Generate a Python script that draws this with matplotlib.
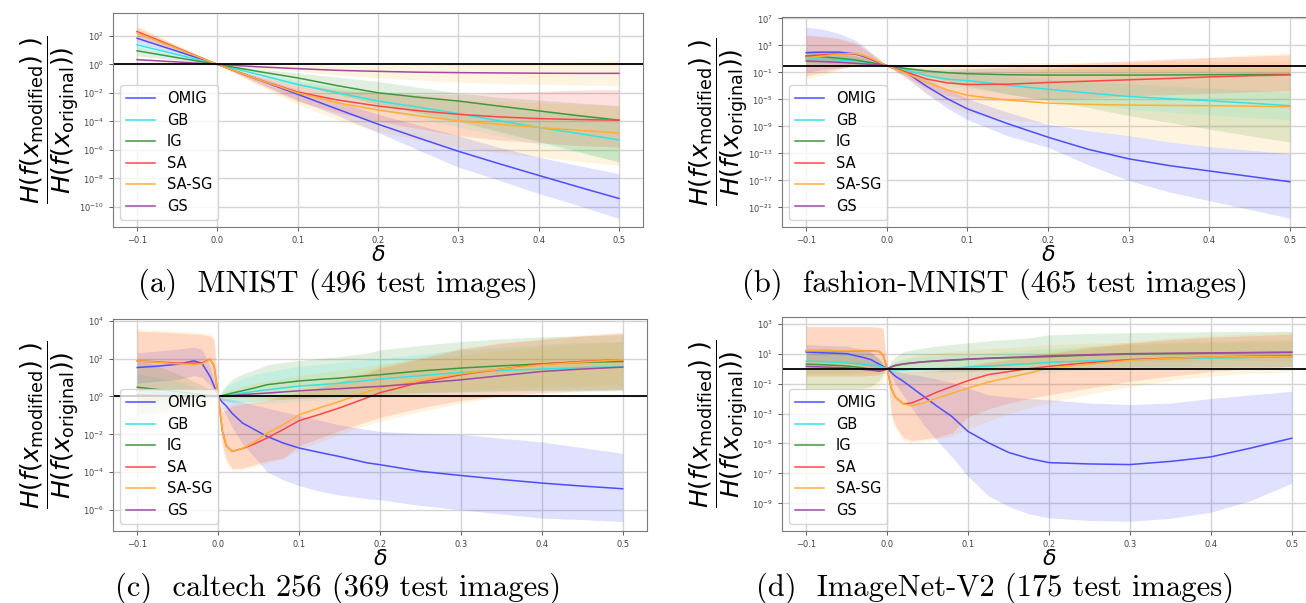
import numpy as np
import matplotlib
matplotlib.use("Agg")
import matplotlib.pyplot as plt
from matplotlib.ticker import NullLocator

# all curve values below are log10 of the ratio
METHODS = ['OMIG', 'GB', 'IG', 'SA', 'SA-SG', 'GS']

# (a) MNIST
MN_X = [-0.1, -0.05, 0, 0.05, 0.1, 0.15, 0.2, 0.25, 0.3, 0.35, 0.4, 0.45, 0.5]
MN_OMIG = [1.83, 0.92, 0, -1.05, -2.1, -3.15, -4.19, -5.15, -6.09, -6.95, -7.78, -8.6, -9.4]
MN_OMIG_LO = [1.5, 0.75, 0, -1.25, -2.5, -3.6, -4.77, -6.0, -7.2, -8.1, -9.05, -9.9, -10.8]
MN_OMIG_HI = [2.2, 1.1, 0, -0.85, -1.75, -2.6, -3.5, -4.25, -5.0, -5.8, -6.5, -7.1, -7.66]
MN_GB = [1.37, 0.68, 0, -0.7, -1.41, -2.0, -2.57, -3.0, -3.45, -3.95, -4.42, -4.85, -5.3]
MN_GB_LO = [1.1, 0.55, 0, -0.85, -1.7, -2.5, -3.2, -3.8, -4.4, -5.0, -5.6, -6.2, -6.8]
MN_GB_HI = [1.6, 0.8, 0, -0.55, -1.15, -1.6, -2.0, -2.3, -2.6, -2.9, -3.2, -3.5, -3.8]
MN_IG = [0.95, 0.47, 0, -0.49, -0.95, -1.5, -1.99, -2.3, -2.57, -2.92, -3.26, -3.6, -3.91]
MN_IG_LO = [0.6, 0.3, 0, -0.7, -1.4, -2.1, -2.8, -3.4, -4.0, -4.7, -5.4, -6.1, -6.85]
MN_IG_HI = [1.25, 0.62, 0, -0.3, -0.6, -0.9, -1.2, -1.6, -2.0, -2.3, -2.5, -2.7, -2.9]
MN_SA = [2.3, 1.15, 0, -1.05, -1.94, -2.5, -2.92, -3.25, -3.5, -3.68, -3.8, -3.87, -3.91]
MN_SA_LO = [2.0, 1.0, 0, -1.35, -2.6, -3.4, -4.0, -4.5, -5.0, -5.3, -5.5, -5.7, -5.8]
MN_SA_HI = [2.6, 1.3, 0, -0.8, -1.4, -1.8, -2.0, -2.1, -2.1, -2.0, -1.9, -1.8, -1.76]
MN_SG = [2.2, 1.1, 0, -1.05, -2.0, -2.7, -3.2, -3.6, -3.96, -4.2, -4.42, -4.62, -4.81]
MN_SG_LO = [1.7, 0.85, 0, -1.45, -2.8, -3.9, -4.7, -5.3, -5.8, -6.2, -6.5, -6.8, -7.08]
MN_SG_HI = [2.75, 1.38, 0, -0.75, -1.3, -1.6, -2.0, -2.3, -2.5, -2.6, -2.7, -2.8, -2.9]
MN_GS = [0.33, 0.17, 0, -0.17, -0.3, -0.42, -0.49, -0.55, -0.58, -0.6, -0.62, -0.63, -0.63]
MN_GS_LO = [0.2, 0.1, 0, -0.3, -0.5, -0.75, -0.95, -1.1, -1.25, -1.35, -1.4, -1.45, -1.5]
MN_GS_HI = [0.45, 0.22, 0, -0.05, -0.1, -0.1, -0.1, -0.05, 0.0, 0.05, 0.12, 0.2, 0.26]

# (b) fashion-MNIST
FM_X = [-0.1, -0.08, -0.06, -0.04, -0.03, -0.02, -0.01, 0, 0.025, 0.05, 0.075, 0.1,
        0.15, 0.2, 0.25, 0.3, 0.35, 0.4, 0.45, 0.5]
FM_OMIG = [1.91, 2.0, 2.0, 1.75, 1.4, 0.95, 0.45, 0, -1.1, -3.1, -4.9, -6.4, -8.6, -10.6, -12.4, -13.8, -14.8, -15.6, -16.4, -17.2]
FM_OMIG_LO = [-1.0, -0.6, -0.3, -0.1, 0.0, 0.0, 0.0, 0, -1.8, -4.2, -6.3, -8.0, -10.4, -12.1, -14.7, -17.0, -18.7, -20.0, -21.3, -22.6]
FM_OMIG_HI = [5.7, 5.4, 4.8, 3.8, 3.0, 2.0, 1.0, 0, -0.5, -2.0, -3.5, -4.9, -6.9, -8.7, -9.6, -10.4, -11.3, -12.0, -12.5, -13.05]
FM_GB = [1.0, 0.95, 0.85, 0.7, 0.55, 0.38, 0.2, 0, -0.7, -1.5, -2.0, -2.2, -2.9, -3.5, -4.05, -4.57, -4.9, -5.2, -5.55, -5.94]
FM_GB_LO = [0.0, 0.0, 0.0, 0.0, 0.0, 0.0, 0.0, 0, -1.1, -2.3, -3.0, -3.4, -4.3, -5.0, -5.7, -6.4, -6.9, -7.3, -7.7, -8.0]
FM_GB_HI = [2.0, 1.9, 1.7, 1.4, 1.1, 0.75, 0.4, 0, -0.3, -0.7, -1.0, -1.2, -1.6, -2.0, -2.4, -2.7, -3.0, -3.3, -3.6, -3.9]
FM_IG = [1.42, 1.3, 1.1, 0.85, 0.65, 0.45, 0.22, 0, -0.45, -0.8, -1.05, -1.2, -1.35, -1.4, -1.4, -1.4, -1.38, -1.35, -1.32, -1.3]
FM_IG_LO = [0.5, 0.4, 0.3, 0.2, 0.1, 0.1, 0.05, 0, -0.8, -1.5, -2.3, -3.0, -4.2, -5.2, -6.2, -7.4, -8.4, -9.4, -10.4, -11.3]
FM_IG_HI = [2.3, 2.2, 1.9, 1.5, 1.2, 0.8, 0.4, 0, -0.2, -0.3, -0.35, -0.4, -0.4, -0.4, -0.4, -0.35, -0.35, -0.3, -0.3, -0.3]
FM_SA = [1.42, 1.6, 1.75, 1.75, 1.5, 1.05, 0.5, 0, -1.0, -2.0, -2.55, -2.8, -2.75, -2.5, -2.3, -2.1, -1.9, -1.67, -1.5, -1.37]
FM_SA_LO = [-1.5, -1.0, -0.5, 0.0, 0.1, 0.1, 0.05, 0, -1.7, -3.4, -4.4, -5.0, -5.2, -5.0, -4.8, -4.5, -4.3, -4.1, -3.9, -3.7]
FM_SA_HI = [4.5, 4.3, 4.0, 3.3, 2.6, 1.8, 0.9, 0, -0.3, -0.6, -0.6, -0.5, -0.2, 0.1, 0.4, 0.7, 1.0, 1.2, 1.4, 1.6]
FM_SG = [1.17, 1.4, 1.7, 1.8, 1.55, 1.1, 0.55, 0, -1.2, -2.5, -3.6, -4.4, -5.1, -5.55, -5.75, -5.84, -5.9, -5.94, -6.0, -6.1]
FM_SG_LO = [-2.0, -1.4, -0.6, 0.0, 0.2, 0.2, 0.1, 0, -2.0, -4.2, -5.8, -7.0, -8.0, -8.5, -9.5, -10.5, -11.3, -12.0, -12.5, -13.0]
FM_SG_HI = [4.5, 4.4, 4.1, 3.5, 2.8, 2.0, 1.0, 0, -0.4, -0.9, -1.2, -1.3, -1.0, -0.5, 0.0, 0.4, 0.8, 1.2, 1.6, 1.9]
FM_GS = [0.69, 0.6, 0.5, 0.35, 0.27, 0.18, 0.09, 0, -0.05, -0.08, -0.1, -0.1, -0.1, -0.1, -0.1, -0.1, -0.1, -0.1, -0.1, -0.1]
FM_GS_LO = [0.1, 0.1, 0.05, 0.0, 0.0, 0.0, 0.0, 0, -0.3, -0.4, -0.5, -0.6, -0.65, -0.7, -0.75, -0.8, -0.85, -0.9, -0.9, -0.9]
FM_GS_HI = [1.3, 1.15, 0.95, 0.7, 0.55, 0.35, 0.18, 0, 0.1, 0.2, 0.3, 0.35, 0.4, 0.45, 0.5, 0.55, 0.6, 0.62, 0.65, 0.68]

# (c) caltech 256
CT_X = [-0.1, -0.075, -0.05, -0.03, -0.02, -0.01, -0.005, 0, 0.005, 0.01, 0.017, 0.03, 0.045,
        0.06, 0.08, 0.1, 0.125, 0.15, 0.185, 0.2, 0.25, 0.3, 0.35, 0.4, 0.45, 0.5]
CT_OMIG = [1.53, 1.6, 1.7, 1.88, 1.75, 1.05, 0.55, 0, -0.3, -0.5, -0.88, -1.4, -1.75, -2.1, -2.45, -2.72, -2.95, -3.17, -3.51, -3.6, -3.95, -4.17, -4.38, -4.57, -4.73, -4.87]
CT_OMIG_LO = [0.7, 0.8, 0.9, 1.1, 1.0, 0.6, 0.3, 0, -0.6, -1.0, -1.6, -2.5, -3.2, -3.96, -4.4, -4.7, -5.0, -5.2, -5.4, -5.45, -5.75, -5.98, -6.2, -6.42, -6.5, -6.6]
CT_OMIG_HI = [2.3, 2.4, 2.5, 2.6, 2.5, 1.6, 0.8, 0, -0.05, -0.1, -0.15, -0.3, -0.45, -0.6, -0.8, -1.0, -1.25, -1.5, -1.75, -1.85, -1.95, -2.0, -2.2, -2.4, -2.7, -3.0]
CT_GB = [0.3, 0.22, 0.15, 0.09, 0.06, 0.03, 0.01, 0, 0.03, 0.06, 0.1, 0.18, 0.27, 0.35, 0.45, 0.55, 0.62, 0.7, 0.85, 0.92, 1.1, 1.27, 1.37, 1.45, 1.52, 1.58]
CT_GB_LO = [-0.5, -0.45, -0.4, -0.3, -0.2, -0.1, -0.05, 0, -0.15, -0.25, -0.35, -0.4, -0.4, -0.35, -0.3, -0.25, -0.2, -0.15, -0.05, 0.0, 0.1, 0.2, 0.25, 0.3, 0.3, 0.35]
CT_GB_HI = [1.2, 1.0, 0.8, 0.5, 0.35, 0.2, 0.1, 0, 0.25, 0.5, 0.7, 0.95, 1.15, 1.3, 1.45, 1.6, 1.7, 1.8, 1.95, 2.0, 2.25, 2.45, 2.6, 2.75, 2.85, 2.9]
CT_IG = [0.49, 0.37, 0.25, 0.15, 0.1, 0.05, 0.02, 0, 0.05, 0.1, 0.18, 0.3, 0.45, 0.62, 0.72, 0.82, 0.9, 0.97, 1.1, 1.15, 1.35, 1.5, 1.62, 1.72, 1.8, 1.85]
CT_IG_LO = [-1.0, -0.8, -0.6, -0.4, -0.3, -0.15, -0.08, 0, -0.2, -0.25, -0.3, -0.3, -0.25, -0.2, -0.15, -0.1, -0.05, 0.0, 0.05, 0.1, 0.2, 0.25, 0.3, 0.33, 0.35, 0.35]
CT_IG_HI = [2.0, 1.6, 1.2, 0.8, 0.6, 0.35, 0.2, 0, 0.3, 0.6, 0.9, 1.2, 1.4, 1.67, 1.8, 1.9, 2.0, 2.1, 2.3, 2.46, 2.7, 2.9, 3.05, 3.15, 3.2, 3.26]
CT_SA = [1.88, 1.82, 1.76, 1.76, 1.76, 1.97, 1.6, 0, -1.8, -2.6, -2.9, -2.75, -2.5, -2.2, -1.75, -1.28, -0.95, -0.6, -0.05, 0.2, 0.75, 1.15, 1.45, 1.72, 1.85, 1.94]
CT_SA_LO = [-0.3, -0.2, -0.1, 0.0, 0.0, 0.1, 0.1, 0, -2.5, -3.3, -3.8, -3.78, -3.6, -3.4, -3.25, -2.6, -2.2, -1.8, -1.3, -1.1, -0.6, -0.2, 0.05, 0.2, 0.3, 0.35]
CT_SA_HI = [3.45, 3.4, 3.35, 3.3, 3.25, 3.2, 3.0, 0, -0.8, -0.7, -0.5, -0.4, -0.3, -0.2, 0.0, 0.2, 0.5, 0.8, 1.25, 1.5, 2.0, 2.5, 2.8, 3.0, 3.2, 3.35]
CT_SG = [1.88, 1.8, 1.72, 1.7, 1.72, 1.95, 1.6, 0, -1.8, -2.6, -2.9, -2.75, -2.4, -1.95, -1.5, -0.97, -0.6, -0.26, 0.26, 0.45, 0.85, 1.2, 1.45, 1.67, 1.82, 1.94]
CT_SG_LO = [-1.0, -0.9, -0.8, -0.7, -0.6, -0.4, -0.2, 0, -2.7, -3.5, -3.9, -3.85, -3.7, -3.5, -3.3, -2.8, -2.4, -2.0, -1.5, -1.3, -0.8, -0.35, 0.0, 0.15, 0.25, 0.3]
CT_SG_HI = [3.55, 3.5, 3.45, 3.4, 3.35, 3.3, 3.1, 0, -0.6, -0.5, -0.4, -0.3, -0.2, -0.1, 0.1, 0.4, 0.7, 1.0, 1.4, 1.6, 2.1, 2.55, 2.85, 3.05, 3.25, 3.4]
CT_GS = [0.1, 0.07, 0.05, 0.03, 0.02, 0.01, 0.0, 0, 0.01, 0.03, 0.05, 0.1, 0.14, 0.18, 0.24, 0.3, 0.36, 0.41, 0.5, 0.53, 0.7, 0.88, 1.1, 1.32, 1.45, 1.55]
CT_GS_LO = [-0.3, -0.25, -0.2, -0.15, -0.1, -0.05, 0.0, 0, -0.1, -0.1, -0.1, -0.1, -0.1, -0.1, -0.1, -0.1, -0.05, 0.0, 0.05, 0.1, 0.2, 0.3, 0.4, 0.5, 0.55, 0.6]
CT_GS_HI = [0.5, 0.4, 0.3, 0.2, 0.15, 0.08, 0.03, 0, 0.15, 0.3, 0.4, 0.55, 0.7, 0.8, 0.95, 1.1, 1.25, 1.4, 1.6, 1.7, 1.95, 2.2, 2.45, 2.65, 2.8, 2.9]

# (d) ImageNet-V2
IN_X = [-0.1, -0.075, -0.05, -0.03, -0.02, -0.01, -0.005, 0, 0.005, 0.01, 0.02, 0.03, 0.045,
        0.06, 0.08, 0.1, 0.125, 0.15, 0.175, 0.2, 0.25, 0.3, 0.35, 0.4, 0.45, 0.5]
IN_OMIG = [1.11, 1.05, 1.0, 0.75, 0.6, 0.3, 0.15, 0, -0.25, -0.5, -0.85, -1.25, -1.85, -2.45, -3.2, -4.2, -4.95, -5.6, -6.0, -6.28, -6.37, -6.41, -6.2, -5.9, -5.3, -4.65]
IN_OMIG_LO = [0.5, 0.45, 0.4, 0.2, 0.1, 0.0, 0.0, 0, -0.5, -1.0, -1.8, -2.6, -3.75, -4.7, -5.9, -7.2, -8.5, -9.2, -9.7, -9.97, -10.15, -10.2, -10.0, -9.6, -8.8, -7.66]
IN_OMIG_HI = [1.6, 1.55, 1.5, 1.3, 1.1, 0.6, 0.3, 0, -0.05, -0.15, -0.3, -0.4, -0.5, -0.7, -0.9, -1.3, -1.75, -1.9, -2.0, -2.08, -2.3, -2.4, -2.3, -2.0, -1.75, -1.52]
IN_GB = [0.5, 0.45, 0.38, 0.3, 0.25, 0.18, 0.1, 0, -0.05, -0.08, -0.08, -0.05, -0.02, 0.0, 0.03, 0.1, 0.17, 0.25, 0.33, 0.42, 0.52, 0.6, 0.66, 0.71, 0.75, 0.78]
IN_GB_LO = [-0.3, -0.3, -0.3, -0.25, -0.2, -0.12, -0.05, 0, -0.4, -0.6, -0.8, -0.85, -0.85, -0.8, -0.75, -0.65, -0.55, -0.45, -0.35, -0.25, -0.1, 0.0, 0.05, 0.1, 0.12, 0.15]
IN_GB_HI = [1.3, 1.2, 1.1, 0.9, 0.7, 0.45, 0.25, 0, 0.3, 0.45, 0.6, 0.7, 0.8, 0.85, 0.9, 0.95, 1.05, 1.15, 1.25, 1.35, 1.5, 1.6, 1.7, 1.75, 1.8, 1.85]
IN_IG = [0.3, 0.25, 0.18, 0.05, -0.03, -0.1, -0.06, 0, 0.1, 0.2, 0.3, 0.37, 0.45, 0.5, 0.56, 0.62, 0.68, 0.72, 0.76, 0.8, 0.9, 0.97, 1.0, 1.03, 1.06, 1.08]
IN_IG_LO = [-1.4, -1.4, -1.35, -1.3, -1.2, -0.8, -0.4, 0, -0.1, -0.15, -0.2, -0.2, -0.2, -0.2, -0.2, -0.2, -0.15, -0.1, -0.05, 0.0, 0.05, 0.1, 0.1, 0.1, 0.1, 0.1]
IN_IG_HI = [1.3, 1.3, 1.25, 1.2, 1.1, 0.7, 0.35, 0, 0.5, 0.8, 1.1, 1.25, 1.38, 1.5, 1.62, 1.72, 1.87, 1.95, 2.05, 2.27, 2.35, 2.4, 2.44, 2.47, 2.48, 2.49]
IN_SA = [1.2, 1.2, 1.19, 1.18, 1.17, 1.15, 0.9, 0, -1.3, -1.9, -2.35, -2.3, -1.97, -1.6, -1.2, -0.8, -0.4, -0.2, 0.0, 0.15, 0.4, 0.6, 0.7, 0.78, 0.83, 0.87]
IN_SA_LO = [-0.5, -0.5, -0.5, -0.5, -0.45, -0.4, -0.3, 0, -3.0, -3.8, -4.6, -4.8, -4.7, -4.6, -4.3, -3.2, -2.7, -2.3, -2.0, -1.75, -1.3, -0.85, -0.5, -0.2, 0.0, 0.15]
IN_SA_HI = [2.8, 2.8, 2.8, 2.8, 2.8, 2.75, 2.7, 0, -0.1, -0.15, -0.2, -0.2, -0.19, -0.15, 0.0, 0.2, 0.4, 0.6, 0.8, 1.0, 1.4, 1.7, 1.95, 2.1, 2.2, 2.3]
IN_SG = [1.2, 1.2, 1.19, 1.18, 1.17, 1.15, 0.9, 0, -1.3, -1.9, -2.35, -2.48, -2.3, -2.0, -1.65, -1.3, -0.9, -0.6, -0.3, 0.04, 0.3, 0.55, 0.68, 0.78, 0.8, 0.82]
IN_SG_LO = [-1.4, -1.4, -1.4, -1.4, -1.35, -1.2, -0.8, 0, -3.2, -4.0, -4.8, -4.9, -4.85, -4.7, -4.5, -4.0, -3.5, -3.0, -2.6, -2.3, -1.7, -1.2, -0.8, -0.5, -0.3, -0.2]
IN_SG_HI = [2.83, 2.83, 2.83, 2.83, 2.83, 2.8, 2.7, 0, -0.1, -0.15, -0.2, -0.2, -0.15, -0.1, 0.05, 0.25, 0.5, 0.7, 0.9, 1.1, 1.5, 1.8, 2.05, 2.2, 2.35, 2.45]
IN_GS = [0.15, 0.1, 0.05, -0.05, -0.1, -0.18, -0.12, 0, 0.12, 0.22, 0.32, 0.38, 0.46, 0.52, 0.58, 0.64, 0.7, 0.75, 0.8, 0.85, 0.93, 1.0, 1.03, 1.05, 1.08, 1.1]
IN_GS_LO = [-0.4, -0.4, -0.4, -0.4, -0.4, -0.35, -0.2, 0, -0.05, -0.05, -0.05, 0.0, 0.0, 0.05, 0.1, 0.15, 0.2, 0.25, 0.3, 0.35, 0.4, 0.45, 0.5, 0.5, 0.5, 0.5]
IN_GS_HI = [0.7, 0.65, 0.6, 0.5, 0.4, 0.2, 0.1, 0, 0.3, 0.5, 0.7, 0.8, 0.95, 1.05, 1.15, 1.25, 1.35, 1.4, 1.5, 1.6, 1.7, 1.75, 1.8, 1.85, 1.9, 1.95]

XTICKS = [-0.1, 0.0, 0.1, 0.2, 0.3, 0.4, 0.5]
LINE_COLORS = ['#4d4dff', '#33e3e3', '#3c9a3c', '#ff4545', '#ffb030', '#a448a4']
FILL_COLORS = ['blue', 'cyan', 'green', 'red', 'orange', 'orange']

YLABEL = r'$\dfrac{H(f(x_{\mathrm{modified}})\ )}{H(f(x_{\mathrm{original}}))}$'

W, H = 1306, 603
fig = plt.figure(figsize=(W / 100, H / 100), dpi=100)


def draw(rect, x, series, ylim, yticks, caption, cap_xy):
    ax = fig.add_axes([rect[0] / W, 1 - rect[3] / H, (rect[2] - rect[0]) / W, (rect[3] - rect[1]) / H])
    for (mean, lo, hi), name, lc, fc in zip(series, METHODS, LINE_COLORS, FILL_COLORS):
        ax.fill_between(x, 10.0 ** np.array(lo), 10.0 ** np.array(hi), color=fc, alpha=0.12, lw=0)
    for (mean, lo, hi), name, lc in zip(series, METHODS, LINE_COLORS):
        ax.plot(x, 10.0 ** np.array(mean), color=lc, lw=1.1, label=name)
    ax.axhline(1, color='black', lw=1.3)
    ax.set_yscale('log')
    ax.set_ylim(10.0 ** ylim[0], 10.0 ** ylim[1])
    ax.set_xlim(-0.13, 0.53)
    ax.set_xticks(XTICKS)
    ax.set_yticks([10.0 ** k for k in yticks])
    ax.yaxis.set_minor_locator(NullLocator())
    ax.tick_params(labelsize=6, colors='#444444', length=3, width=0.6)
    ax.grid(True, color='#d4d4d4', lw=1)
    ax.set_axisbelow(True)
    for s in ax.spines.values():
        s.set_color('#7a7a7a')
    ax.set_xlabel(r'$\delta$', fontsize=16, labelpad=0)
    ax.set_ylabel(YLABEL, fontsize=18)
    ax.yaxis.set_label_coords(-0.06, 0.5)
    ax.legend(loc='lower left', fontsize=10.5, handlelength=2.0, labelspacing=0.45)
    fig.text(cap_xy[0] / W, 1 - cap_xy[1] / H, caption, ha='center', va='center',
             family='cmr10', fontsize=22)
    return ax


draw((113, 13, 643, 227), MN_X,
     [(MN_OMIG, MN_OMIG_LO, MN_OMIG_HI), (MN_GB, MN_GB_LO, MN_GB_HI), (MN_IG, MN_IG_LO, MN_IG_HI),
      (MN_SA, MN_SA_LO, MN_SA_HI), (MN_SG, MN_SG_LO, MN_SG_HI), (MN_GS, MN_GS_LO, MN_GS_HI)],
     (-11.4, 3.6), range(-10, 3, 2), '(a)  MNIST (496 test images)', (338, 284))

draw((782, 17, 1314, 227), FM_X,
     [(FM_OMIG, FM_OMIG_LO, FM_OMIG_HI), (FM_GB, FM_GB_LO, FM_GB_HI), (FM_IG, FM_IG_LO, FM_IG_HI),
      (FM_SA, FM_SA_LO, FM_SA_HI), (FM_SG, FM_SG_LO, FM_SG_HI), (FM_GS, FM_GS_LO, FM_GS_HI)],
     (-23.9, 7.2), range(-21, 8, 4), '(b)  fashion-MNIST (465 test images)', (995, 284))

draw((113, 319, 647, 531), CT_X,
     [(CT_OMIG, CT_OMIG_LO, CT_OMIG_HI), (CT_GB, CT_GB_LO, CT_GB_HI), (CT_IG, CT_IG_LO, CT_IG_HI),
      (CT_SA, CT_SA_LO, CT_SA_HI), (CT_SG, CT_SG_LO, CT_SG_HI), (CT_GS, CT_GS_LO, CT_GS_HI)],
     (-7.1, 4.09), range(-6, 5, 2), '(c)  caltech 256 (369 test images)', (338, 588))

draw((782, 317, 1316, 531), IN_X,
     [(IN_OMIG, IN_OMIG_LO, IN_OMIG_HI), (IN_GB, IN_GB_LO, IN_GB_HI), (IN_IG, IN_IG_LO, IN_IG_HI),
      (IN_SA, IN_SA_LO, IN_SA_HI), (IN_SG, IN_SG_LO, IN_SG_HI), (IN_GS, IN_GS_LO, IN_GS_HI)],
     (-10.85, 3.45), range(-9, 4, 2), '(d)  ImageNet-V2 (175 test images)', (995, 588))

fig.savefig('out.png', dpi=100)
